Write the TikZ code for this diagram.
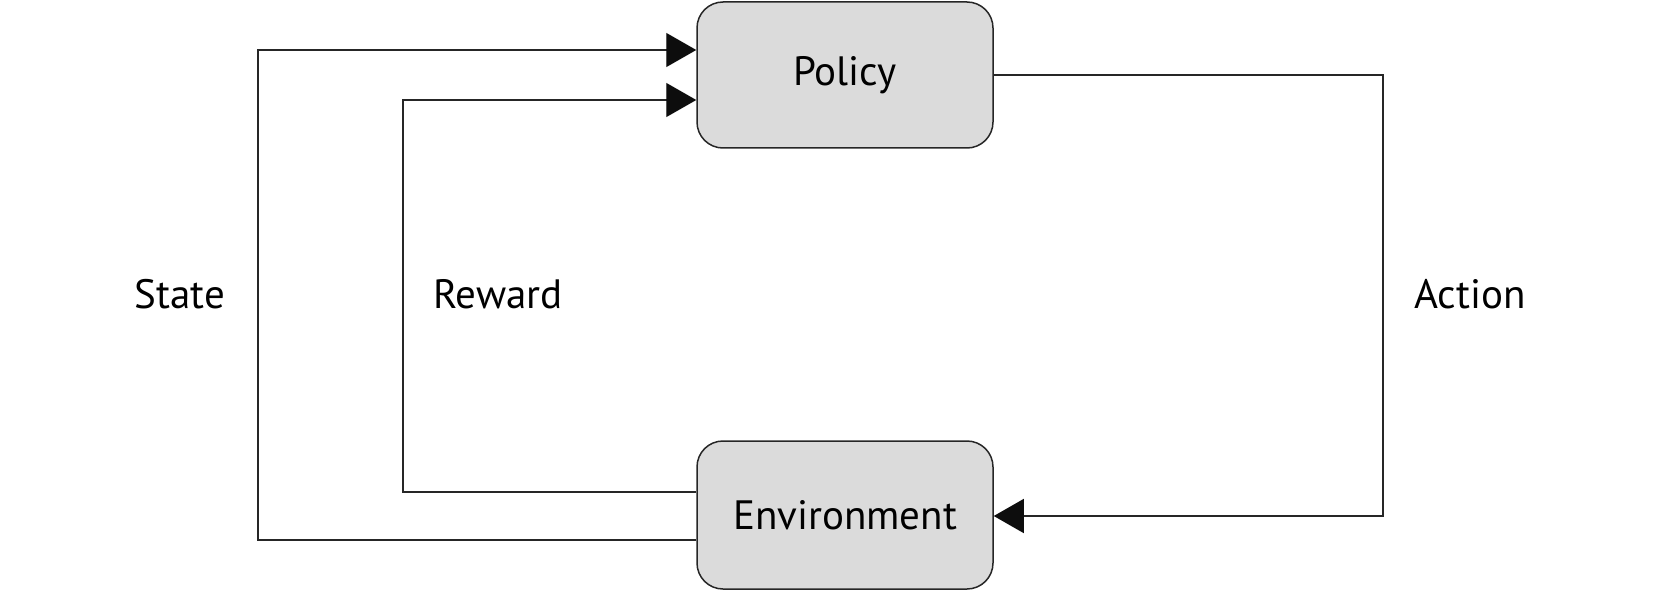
\documentclass[tikz,border=0pt]{standalone}
\usepackage{fontspec}
\setmainfont{PT Sans}
\usetikzlibrary{arrows.meta}
\begin{document}
\begin{tikzpicture}[x=1pt,y=-1pt,
  box/.style={draw=black!85, line width=1.5pt, fill=black!14, rounded corners=26pt,
    minimum width=296pt, inner sep=0pt, font=\fontsize{41}{48}\selectfont},
  conn/.style={draw=black!85, line width=1.3pt},
  arr/.style={conn, -{Triangle[length=30pt,width=34pt,color=black!95]}},
  lbl/.style={anchor=base, inner sep=0pt, font=\fontsize{41}{48}\selectfont}]
\useasboundingbox (0,0) rectangle (1665,591);
\node[box, minimum height=146pt] (policy) at (845,75) {Policy};
\node[box, minimum height=148pt] (env) at (845,515) {Environment};
\coordinate (sb) at (258,540);
\coordinate (st) at (258,50);
\coordinate (rb) at (403,492);
\coordinate (rt) at (403,100);
\coordinate (at) at (1383,75);
\coordinate (ab) at (1383,516);
\draw[arr] (env.west |- sb) -- (sb) -- (st) -- (policy.west |- st);
\draw[arr] (env.west |- rb) -- (rb) -- (rt) -- (policy.west |- rt);
\draw[arr] (policy.east |- at) -- (at) -- (ab) -- (env.east |- ab);
\node[lbl] (state) at (180,308) {State};
\node[lbl] (reward) at (498,308) {Reward};
\node[lbl] (action) at (1470,308) {Action};
\end{tikzpicture}
\end{document}
